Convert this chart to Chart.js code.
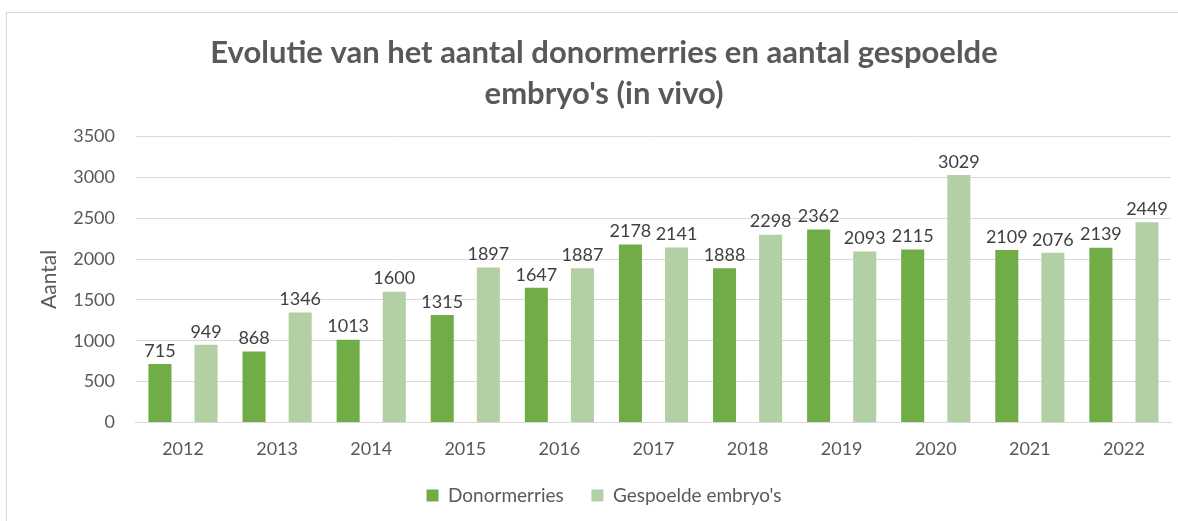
<!DOCTYPE html>
<html>
<head>
<meta charset="utf-8">
<script src="https://cdn.jsdelivr.net/npm/chart.js@4/dist/chart.umd.min.js"></script>
<style>
  html, body { margin: 0; padding: 0; background: #fff; }
  #wrap { position: relative; width: 1178px; height: 521px; overflow: hidden; }
  #frame { position: absolute; left: 6px; top: 12px; width: 1200px; height: 600px; border: 1px solid #d9d9d9; box-sizing: border-box; }
  #chart { position: absolute; left: 0; top: 0; }
</style>
</head>
<body>
<div id="wrap">
  <div id="frame"></div>
  <canvas id="chart" width="1178" height="521"></canvas>
</div>
<script>
// jaren en aantallen
const years = ['2012', '2013', '2014', '2015', '2016', '2017', '2018', '2019', '2020', '2021', '2022'];
const donormerries = [715, 868, 1013, 1315, 1647, 2178, 1888, 2362, 2115, 2109, 2139];
const gespoeld = [949, 1346, 1600, 1897, 1887, 2141, 2298, 2093, 3029, 2076, 2449];
const yTicks = [0, 500, 1000, 1500, 2000, 2500, 3000, 3500];

const FONT = 'Lato, "Liberation Sans", sans-serif';

// eigen plugin voor de waarden boven de staven
const barLabels = {
    id: 'barLabels',
    afterDatasetsDraw(chart) {
        const ctx = chart.ctx;
        ctx.save();
        ctx.font = '18px ' + FONT;
        ctx.fillStyle = '#404040';
        ctx.textAlign = 'center';
        ctx.textBaseline = 'bottom';
        chart.data.datasets.forEach((ds, i) => {
            chart.getDatasetMeta(i).data.forEach((bar, j) => {
                ctx.fillText(ds.data[j], bar.x, bar.y - 4);
            });
        });
        ctx.restore();
    }
};

const ctx = document.getElementById('chart').getContext('2d');
new Chart(ctx, {
    type: 'bar',
    data: {
        labels: years,
        datasets: [
            {
                label: 'Donormerries',
                data: donormerries,
                backgroundColor: '#70AD47',
                categoryPercentage: 0.98,
                barPercentage: 0.5
            },
            {
                label: "Gespoelde embryo's",
                data: gespoeld,
                backgroundColor: '#B3D0A4',
                categoryPercentage: 0.98,
                barPercentage: 0.5
            }
        ]
    },
    options: {
        responsive: false,
        animation: false,
        layout: {
            padding: { top: 22, left: 37, right: 7, bottom: 6 }
        },
        scales: {
            x: {
                grid: { display: false },
                border: { color: '#d9d9d9' },
                ticks: {
                    color: '#595959',
                    font: { family: FONT, size: 18 },
                    padding: 8
                }
            },
            y: {
                min: 0,
                max: 3500,
                afterBuildTicks: (axis) => {
                    axis.ticks = yTicks.map(v => ({ value: v }));
                },
                grid: { color: '#d9d9d9', drawTicks: false },
                border: { display: false },
                ticks: {
                    color: '#595959',
                    font: { family: FONT, size: 18 },
                    padding: 21,
                    callback: (value) => String(value)
                },
                title: {
                    display: true,
                    text: 'Aantal',
                    color: '#595959',
                    font: { family: FONT, size: 21 },
                    padding: { top: 0, bottom: -10 }
                }
            }
        },
        plugins: {
            title: {
                display: true,
                text: ['Evolutie van het aantal donormerries en aantal gespoelde', "embryo's (in vivo)"],
                color: '#595959',
                font: { family: FONT, size: 31, weight: 'bold', lineHeight: 1.33 },
                padding: { top: 10, bottom: 22 }
            },
            legend: {
                position: 'bottom',
                labels: {
                    color: '#595959',
                    font: { family: FONT, size: 19 },
                    boxWidth: 12,
                    boxHeight: 12,
                    padding: 18,
                    // extra ruimte tussen de twee legenda-items
                    generateLabels: (chart) => {
                        const items = Chart.defaults.plugins.legend.labels.generateLabels(chart);
                        items[0].text = items[0].text + '  ';
                        return items;
                    }
                }
            },
            tooltip: { enabled: false }
        }
    },
    plugins: [barLabels]
});
</script>
</body>
</html>
